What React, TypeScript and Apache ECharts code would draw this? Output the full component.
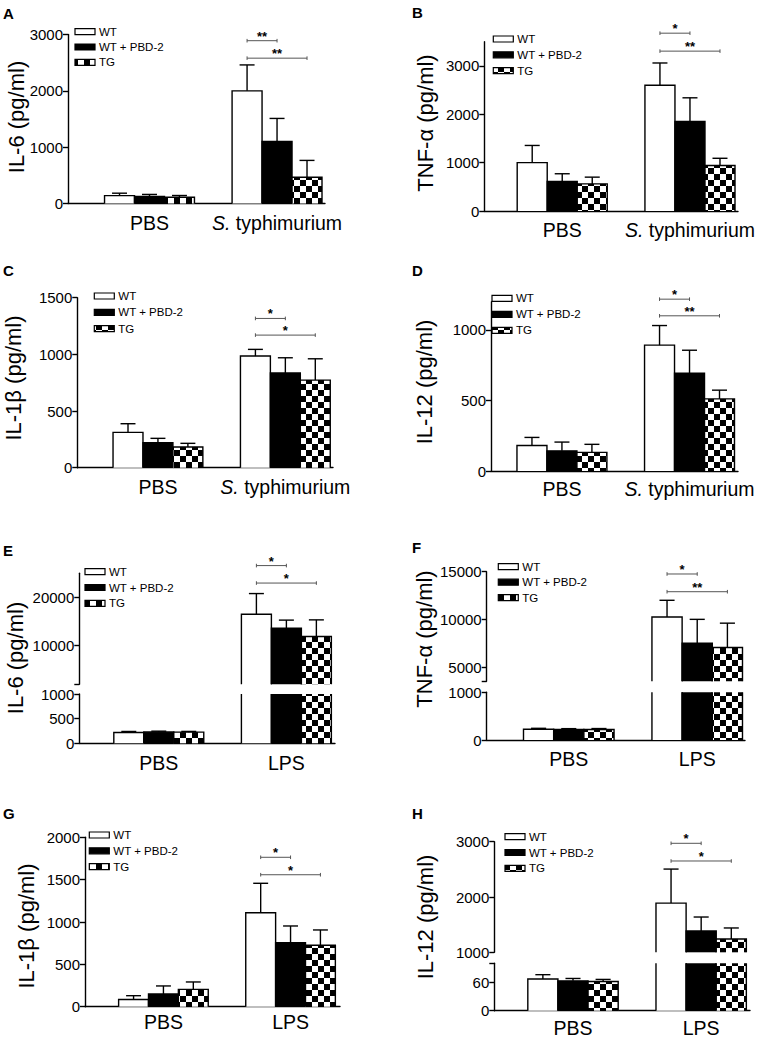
import React, { useEffect, useRef } from 'react';
import * as echarts from 'echarts';

const FF = "'Liberation Sans', Arial, Helvetica, sans-serif";

const GENOTYPES = ['WT', 'WT + PBD-2', 'TG'];
const CATS_ST = ['PBS', 'S. typhimurium'];
const CATS_LPS = ['PBS', 'LPS'];

// rows = genotype (WT, WT + PBD-2, TG), columns = category
// A  IL-6, S. typhimurium
const A_MEAN = [[140, 2000], [125, 1100], [112, 465]];
const A_SEM = [[43, 460], [36, 410], [30, 300]];
const A_TICKS = [0, 1000, 2000, 3000];
const A_SIG: [number, number, number, string][] = [[0, 1, 2890, '**'], [0, 2, 2580, '**']];
// B  TNF-α, S. typhimurium
const B_MEAN = [[1000, 2600], [610, 1850], [560, 940]];
const B_SEM = [[355, 460], [160, 490], [140, 150]];
const B_TICKS = [0, 1000, 2000, 3000];
const B_SIG: [number, number, number, string][] = [[0, 1, 3676, '*'], [0, 2, 3305, '**']];
// C  IL-1β, S. typhimurium
const C_MEAN = [[312, 985], [220, 835], [183, 773]];
const C_SEM = [[76, 59], [39, 135], [32, 188]];
const C_TICKS = [0, 500, 1000, 1500];
const C_SIG: [number, number, number, string][] = [[0, 1, 1317, '*'], [0, 2, 1170, '*']];
// D  IL-12, S. typhimurium
const D_MEAN = [[181, 892], [143, 694], [132, 511]];
const D_SEM = [[57, 139], [62, 162], [57, 62]];
const D_TICKS = [0, 500, 1000];
const D_SIG: [number, number, number, string][] = [[0, 1, 1218, '*'], [0, 2, 1100, '**']];
// E  IL-6, LPS (broken axis)
const E_MEAN = [[220, 16500], [228, 13600], [226, 11900]];
const E_SEM = [[20, 4300], [18, 1700], [15, 3450]];
const E_TICKS_UPPER = [10000, 20000];
const E_TICKS_LOWER = [0, 500, 1000];
const E_SIG: [number, number, number, string][] = [[0, 1, 26600, '*'], [0, 2, 22980, '*']];
// F  TNF-α, LPS (broken axis)
const F_MEAN = [[225, 10250], [220, 7500], [220, 7050]];
const F_SEM = [[20, 1750], [18, 2500], [20, 2550]];
const F_TICKS_UPPER = [5000, 10000, 15000];
const F_TICKS_LOWER = [0, 1000];
const F_SIG: [number, number, number, string][] = [[0, 1, 14760, '*'], [0, 2, 12900, '**']];
// G  IL-1β, LPS
const G_MEAN = [[85, 1110], [150, 756], [205, 725]];
const G_SEM = [[45, 347], [95, 197], [87, 181]];
const G_TICKS = [0, 500, 1000, 1500, 2000];
const G_SIG: [number, number, number, string][] = [[0, 1, 1764, '*'], [0, 2, 1558, '*']];
// H  IL-12, LPS (broken axis)
const H_MEAN = [[67, 1890], [63, 1385], [61.5, 1240]];
const H_SEM = [[9, 615], [5, 253], [4.5, 200]];
const H_TICKS_UPPER = [1000, 2000, 3000];
const H_TICKS_LOWER = [0, 60];
const H_SIG: [number, number, number, string][] = [[0, 1, 2971, '*'], [0, 2, 2651, '*']];

type Seg = { top: number; bottom: number; min: number; max: number; labels: number[]; mark?: 'min' | 'max' };
type Panel = {
  letter: string; lx: number; ly: number;
  yName: string; nameX: number; nameY: number;
  left: number; right: number; xMin: number; xMax: number;
  cats: string[]; mean: number[][]; sem: number[][]; sig: [number, number, number, string][];
  segs: Seg[]; legX: number; legY: number; legDy: number; catMargin: number;
};

const PANELS: Panel[] = [
  { letter: 'A', lx: 3, ly: 13, yName: 'IL-6 (pg/ml)', nameX: 16, nameY: 117,
    left: 68, right: 325, xMin: 0.361, xMax: 2.376, cats: CATS_ST, mean: A_MEAN, sem: A_SEM, sig: A_SIG,
    segs: [{ top: 34.5, bottom: 203.5, min: 0, max: 3000, labels: A_TICKS }],
    legX: 75, legY: 31.7, legDy: 15.3, catMargin: 9 },
  { letter: 'B', lx: 412, ly: 12.5, yName: 'TNF-α (pg/ml)', nameX: 425, nameY: 123,
    left: 484.3, right: 738, xMin: 0.39, xMax: 2.376, cats: CATS_ST, mean: B_MEAN, sem: B_SEM, sig: B_SIG,
    segs: [{ top: 41.7, bottom: 211, min: 0, max: 3500, labels: B_TICKS }],
    legX: 493.3, legY: 39, legDy: 15.8, catMargin: 9 },
  { letter: 'C', lx: 3, ly: 270, yName: 'IL-1β (pg/ml)', nameX: 13, nameY: 378,
    left: 77.3, right: 333, xMin: 0.367, xMax: 2.374, cats: CATS_ST, mean: C_MEAN, sem: C_SEM, sig: C_SIG,
    segs: [{ top: 297.7, bottom: 467.7, min: 0, max: 1500, labels: C_TICKS }],
    legX: 94.3, legY: 296, legDy: 16.3, catMargin: 9 },
  { letter: 'D', lx: 412, ly: 270, yName: 'IL-12 (pg/ml)', nameX: 424.5, nameY: 382,
    left: 491, right: 738, xMin: 0.444, xMax: 2.38, cats: CATS_ST, mean: D_MEAN, sem: D_SEM, sig: D_SIG,
    segs: [{ top: 301.7, bottom: 471, min: 0, max: 1200, labels: D_TICKS }],
    legX: 492, legY: 298.3, legDy: 16, catMargin: 8 },
  { letter: 'E', lx: 3, ly: 550, yName: 'IL-6 (pg/ml)', nameX: 15, nameY: 658,
    left: 79.3, right: 335, xMin: 0.377, xMax: 2.381, cats: CATS_LPS, mean: E_MEAN, sem: E_SEM, sig: E_SIG,
    segs: [
      { top: 573.3, bottom: 684.3, min: 2000, max: 25000, labels: E_TICKS_UPPER, mark: 'min' },
      { top: 694, bottom: 743.3, min: 0, max: 1000, labels: E_TICKS_LOWER },
    ],
    legX: 85, legY: 571.7, legDy: 15.8, catMargin: 10 },
  { letter: 'F', lx: 412, ly: 547, yName: 'TNF-α (pg/ml)', nameX: 424.5, nameY: 639,
    left: 486.7, right: 745, xMin: 0.361, xMax: 2.372, cats: CATS_LPS, mean: F_MEAN, sem: F_SEM, sig: F_SIG,
    segs: [
      { top: 571.7, bottom: 681.3, min: 3500, max: 15000, labels: F_TICKS_UPPER, mark: 'min' },
      { top: 692.3, bottom: 740, min: 0, max: 1000, labels: F_TICKS_LOWER },
    ],
    legX: 498.3, legY: 566.7, legDy: 15.5, catMargin: 9 },
  { letter: 'G', lx: 3, ly: 813, yName: 'IL-1β (pg/ml)', nameX: 26, nameY: 926,
    left: 85, right: 340, xMin: 0.383, xMax: 2.389, cats: CATS_LPS, mean: G_MEAN, sem: G_SEM, sig: G_SIG,
    segs: [{ top: 837.3, bottom: 1006.7, min: 0, max: 2000, labels: G_TICKS }],
    legX: 89.3, legY: 835, legDy: 15.8, catMargin: 5 },
  { letter: 'H', lx: 412, ly: 813, yName: 'IL-12 (pg/ml)', nameX: 425, nameY: 917,
    left: 494.3, right: 750, xMin: 0.386, xMax: 2.381, cats: CATS_LPS, mean: H_MEAN, sem: H_SEM, sig: H_SIG,
    segs: [
      { top: 841.7, bottom: 952.3, min: 1000, max: 3000, labels: H_TICKS_UPPER },
      { top: 963.3, bottom: 1010.7, min: 0, max: 100, labels: H_TICKS_LOWER, mark: 'max' },
    ],
    legX: 505, legY: 836.7, legDy: 15.8, catMargin: 7 },
];

const BW = 0.235; // bar width as a fraction of the category spacing
const CAP = BW / 4; // half width of error cap
const LW = 1.4;
const SQ = 6; // checker square size

function makeChecker(): any {
  const c = document.createElement('canvas');
  c.width = SQ * 2;
  c.height = SQ * 2;
  const ctx = c.getContext('2d')!;
  ctx.fillStyle = '#ffffff';
  ctx.fillRect(0, 0, SQ * 2, SQ * 2);
  ctx.fillStyle = '#000000';
  ctx.fillRect(0, 0, SQ, SQ);
  ctx.fillRect(SQ, SQ, SQ, SQ);
  return { image: c.toDataURL(), repeat: 'repeat', imageWidth: SQ * 2, imageHeight: SQ * 2 };
}

function fmtCat(name: string | undefined): string {
  if (!name) return '';
  if (name.startsWith('S. ')) return '{i|S.} ' + name.slice(3);
  return name;
}

function buildOption(checker: any) {
  const grid: any[] = [];
  const xAxis: any[] = [];
  const yAxis: any[] = [];
  const series: any[] = [];
  const graphic: any[] = [];
  const fills = ['#ffffff', '#000000', checker];

  PANELS.forEach((p) => {
    p.segs.forEach((s, si) => {
      const gi = grid.length;
      const isBottom = si === p.segs.length - 1;
      grid.push({
        left: p.left, top: s.top, width: p.right - p.left, height: s.bottom - s.top,
        containLabel: false, outerBoundsMode: 'none',
      });
      xAxis.push({
        type: 'value', gridIndex: gi, min: p.xMin, max: p.xMax,
        axisLine: { show: isBottom, onZero: false, lineStyle: { color: '#000', width: LW } },
        axisTick: { show: false },
        splitLine: { show: false },
        axisLabel: isBottom
          ? {
              customValues: [1, 2], margin: p.catMargin, fontSize: 19.5, color: '#000', fontFamily: FF,
              formatter: (v: number) => fmtCat(p.cats[Math.round(v) - 1]),
              rich: { i: { fontStyle: 'italic', fontSize: 19.5, fontFamily: FF, color: '#000' } },
            }
          : { show: false },
      });
      const tickVals = s.labels.slice();
      if (s.mark === 'min') tickVals.push(s.min);
      if (s.mark === 'max') tickVals.push(s.max);
      yAxis.push({
        type: 'value', gridIndex: gi, min: s.min, max: s.max,
        axisLine: { show: true, onZero: false, lineStyle: { color: '#000', width: LW } },
        axisTick: { show: true, length: 5, customValues: tickVals, lineStyle: { color: '#000', width: LW } },
        axisLabel: {
          customValues: s.labels, margin: 5, fontSize: 15, color: '#000', fontFamily: FF,
          formatter: (v: number) => String(v),
        },
        splitLine: { show: false },
      });

      const barData: number[][] = [];
      for (let g = 0; g < 3; g++) {
        for (let c = 0; c < p.cats.length; c++) {
          barData.push([c + 1, p.mean[g][c], p.sem[g][c], g]);
        }
      }
      series.push({
        type: 'custom', xAxisIndex: gi, yAxisIndex: gi, silent: true, clip: false,
        encode: { x: 0, y: 1 },
        data: barData,
        renderItem: (params: any, api: any) => {
          const x = api.value(0);
          const v = api.value(1);
          const e = api.value(2);
          const g = api.value(3);
          const cs = params.coordSys;
          const xc = x + (g - 1) * BW;
          const pL = api.coord([xc - BW / 2, 0]);
          const pR = api.coord([xc + BW / 2, v]);
          const x0 = pL[0];
          const x1 = pR[0];
          const yb = pL[1];
          const yt = pR[1];
          const top = cs.y;
          const bot = cs.y + cs.height;
          const yT = Math.max(yt, top);
          const yB = Math.min(yb, bot);
          const children: any[] = [];
          if (yB - yT > 0.1) {
            children.push({
              type: 'rect', shape: { x: x0, y: yT, width: x1 - x0, height: yB - yT },
              style: { fill: fills[g], stroke: 'none' },
            });
            const stroke = { stroke: '#000', lineWidth: LW, fill: 'none' };
            if (yt >= top) {
              children.push({ type: 'polyline', shape: { points: [[x0, yB], [x0, yT], [x1, yT], [x1, yB]] }, style: stroke });
              if (e > 0) {
                const pe = api.coord([xc, v + e]);
                const cl = api.coord([xc - CAP, v + e]);
                const cr = api.coord([xc + CAP, v + e]);
                const ye = Math.max(pe[1], top);
                children.push({ type: 'line', shape: { x1: pe[0], y1: yT, x2: pe[0], y2: ye }, style: { stroke: '#000', lineWidth: LW } });
                if (pe[1] >= top) {
                  children.push({ type: 'line', shape: { x1: cl[0], y1: pe[1], x2: cr[0], y2: pe[1] }, style: { stroke: '#000', lineWidth: LW } });
                }
              }
            } else {
              children.push({ type: 'line', shape: { x1: x0, y1: yT, x2: x0, y2: yB }, style: { stroke: '#000', lineWidth: LW } });
              children.push({ type: 'line', shape: { x1: x1, y1: yT, x2: x1, y2: yB }, style: { stroke: '#000', lineWidth: LW } });
            }
          }
          return { type: 'group', children };
        },
      });

      if (si === 0) {
        series.push({
          type: 'custom', xAxisIndex: gi, yAxisIndex: gi, silent: true, clip: false,
          encode: { x: 0, y: 2 },
          data: p.sig.map((r) => [r[0], r[1], r[2]]),
          renderItem: (params: any, api: any) => {
            const g1 = api.value(0);
            const g2 = api.value(1);
            const yv = api.value(2);
            const a = api.coord([2 + (g1 - 1) * BW, yv]);
            const b = api.coord([2 + (g2 - 1) * BW, yv]);
            const lab = p.sig[params.dataIndex][3];
            const ls = { stroke: '#555', lineWidth: 1 };
            return {
              type: 'group',
              children: [
                { type: 'line', shape: { x1: a[0], y1: a[1], x2: b[0], y2: b[1] }, style: ls },
                { type: 'line', shape: { x1: a[0], y1: a[1] - 1.8, x2: a[0], y2: a[1] + 1.8 }, style: ls },
                { type: 'line', shape: { x1: b[0], y1: b[1] - 1.8, x2: b[0], y2: b[1] + 1.8 }, style: ls },
                {
                  type: 'text',
                  style: {
                    text: lab, x: (a[0] + b[0]) / 2, y: a[1] - 4.5,
                    fontSize: 13, fontWeight: 'bold', fontFamily: FF,
                    textAlign: 'center', textVerticalAlign: 'middle', fill: '#000',
                  },
                },
              ],
            };
          },
        });
      }
    });

    graphic.push({
      type: 'text', x: p.lx, y: p.ly, silent: true,
      style: { text: p.letter, fontSize: 15, fontWeight: 'bold', fontFamily: FF, fill: '#000', textAlign: 'left', textVerticalAlign: 'middle' },
    });
    graphic.push({
      type: 'text', x: p.nameX, y: p.nameY, rotation: Math.PI / 2, silent: true,
      style: { text: p.yName, fontSize: 22, fontFamily: FF, fill: '#000', textAlign: 'center', textVerticalAlign: 'middle' },
    });
    GENOTYPES.forEach((name, g) => {
      const cy = p.legY + g * p.legDy;
      graphic.push({
        type: 'rect', silent: true,
        shape: { x: p.legX, y: cy - 3, width: 20, height: 6 },
        style: { fill: fills[g], stroke: '#000', lineWidth: 1.2 },
      });
      graphic.push({
        type: 'text', x: p.legX + 24, y: cy, silent: true,
        style: { text: name, fontSize: 11.5, fontFamily: FF, fill: '#000', textAlign: 'left', textVerticalAlign: 'middle' },
      });
    });
  });

  return {
    animation: false,
    backgroundColor: '#ffffff',
    textStyle: { fontFamily: FF, color: '#000' },
    grid, xAxis, yAxis, series, graphic,
  };
}

export default function App() {
  const ref = useRef<HTMLDivElement>(null);
  useEffect(() => {
    if (!ref.current) return;
    const chart = echarts.init(ref.current, undefined, { renderer: 'svg', width: 759, height: 1041 });
    chart.setOption(buildOption(makeChecker()));
    return () => {
      chart.dispose();
    };
  }, []);
  return (
    <div
      ref={ref}
      style={{ position: 'absolute', left: 0, top: 0, width: 759, height: 1041, background: '#ffffff' }}
    />
  );
}
